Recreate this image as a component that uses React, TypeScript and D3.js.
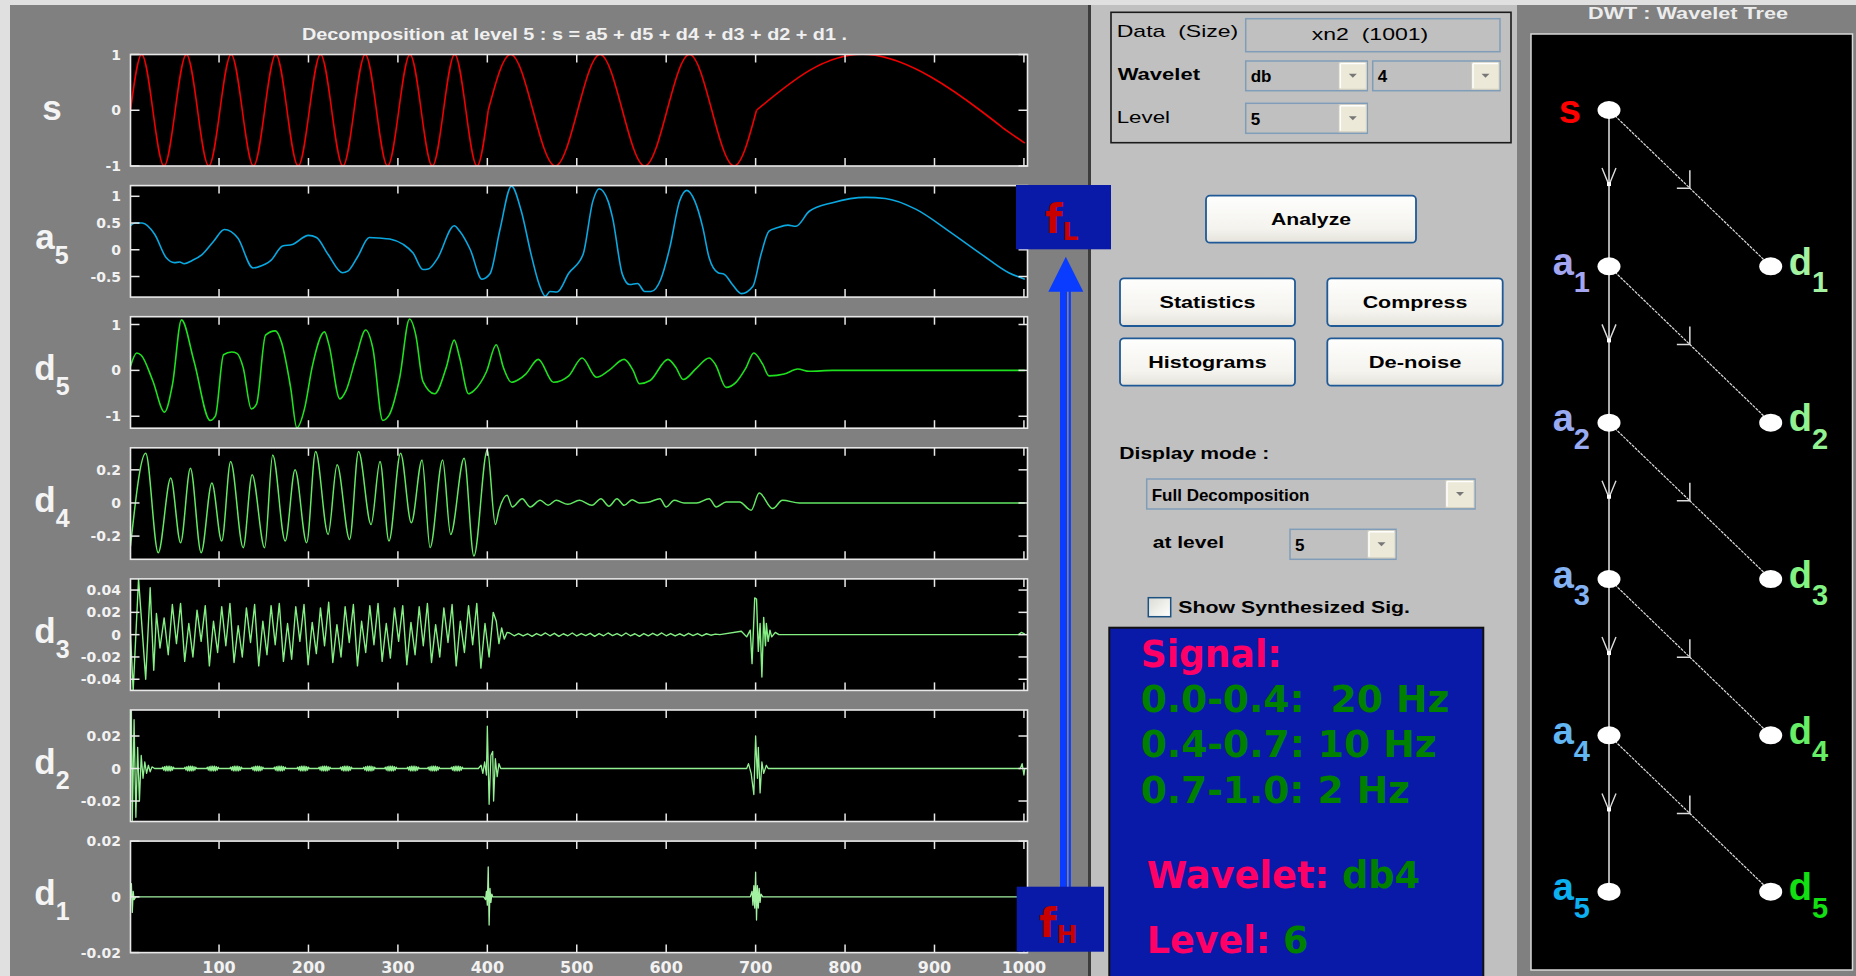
import React from 'react';
import * as d3 from 'd3';

type Pt = [number, number];

// ---------- signal s : read at quarter periods (20 Hz, 10 Hz, 2 Hz parts)
const sPart20: Pt[] = [
  [1, 0], [13.5, 1], [26, 0], [38.5, -1], [51, 0], [63.5, 1], [76, 0], [88.5, -1],
  [101, 0], [113.5, 1], [126, 0], [138.5, -1], [151, 0], [163.5, 1], [176, 0], [188.5, -1],
  [201, 0], [213.5, 1], [226, 0], [238.5, -1], [251, 0], [263.5, 1], [276, 0], [288.5, -1],
  [301, 0], [313.5, 1], [326, 0], [338.5, -1], [351, 0], [363.5, 1], [376, 0], [388.5, -1], [401, 0],
];
const sPart10: Pt[] = [
  [401, 0], [426, 1], [451, 0], [476, -1], [501, 0], [526, 1], [551, 0], [576, -1],
  [601, 0], [626, 1], [651, 0], [676, -1], [701, 0],
];
const sPart2: Pt[] = [[701, 0], [826, 1], [951, 0], [976, -0.31], [1001, -0.59]];

// ---------- approximation a5
const a5Pts: Pt[] = [
  [1, 0.45], [6, 0.5], [14, 0.5], [28, 0.29], [41, -0.15], [50, -0.24], [56, -0.23], [61, -0.26],
  [70, -0.2], [81, -0.09], [94, 0.16], [106, 0.38], [121, 0.22], [138, -0.34], [144, -0.32],
  [158, -0.2], [171, 0.07], [182, 0.1], [200, 0.27], [209, 0.23], [222, -0.09], [238, -0.43],
  [244, -0.4], [255, -0.13], [268, 0.23], [279, 0.22], [291, 0.2], [306, 0.1], [317, -0.06],
  [328, -0.37], [334, -0.36], [344, -0.17], [363, 0.45], [369, 0.35], [381, 0], [394, -0.55],
  [403, -0.45], [414, 0.37], [427, 1.19], [438, 0.72], [449, -0.09], [458, -0.65], [465, -0.87],
  [470, -0.78], [478, -0.79], [491, -0.44], [507, -0.09], [518, 0.91], [525, 1.14], [535, 0.91],
  [540, 0.6], [551, -0.46], [559, -0.65], [568, -0.63], [576, -0.78], [583, -0.78], [594, -0.55],
  [604, 0.04], [615, 0.91], [623, 1.11], [632, 0.91], [641, 0.41], [648, -0.15], [658, -0.43],
  [665, -0.46], [674, -0.65], [684, -0.82], [697, -0.68], [706, -0.09], [715, 0.35], [724, 0.41],
  [736, 0.46], [745, 0.44], [760, 0.72], [786, 0.88], [823, 0.98], [845, 0.96], [879, 0.76],
  [916, 0.35], [953, -0.09], [983, -0.43], [1001, -0.55],
];

// ---------- detail d5
const d5Pts: Pt[] = [
  [1, 0.09], [8, 0.38], [13, 0.33], [26, -0.23], [39, -0.91], [48, -0.3], [58, 1.1], [72, 0.2],
  [90, -1.09], [96, -0.99], [105, 0.34], [114, 0.4], [120, 0.37], [127, 0.06], [136, -0.84],
  [142, -0.73], [152, 0.77], [163, 0.86], [170, 0.6], [180, -0.37], [187, -1.25], [196, -0.8],
  [204, 0.06], [218, 0.84], [223, 0.55], [235, -0.62], [242, -0.44], [253, 0.27], [264, 0.88],
  [272, 0.48], [283, -1.09], [290, -0.98], [302, -0.16], [313, 1.12], [320, 0.77], [328, -0.24],
  [341, -0.51], [354, 0.06], [363, 0.66], [369, 0.28], [379, -0.51], [385, -0.44], [399, -0.03],
  [410, 0.56], [418, 0.06], [427, -0.26], [435, -0.2], [443, -0.08], [457, 0.24], [474, -0.26],
  [491, -0.12], [506, 0.27], [522, -0.15], [536, 0], [553, 0.24], [563, 0], [570, -0.29],
  [582, -0.22], [602, 0.24], [611, 0.06], [619, -0.2], [634, 0.05], [648, 0.27], [655, 0.13],
  [667, -0.37], [678, -0.26], [689, 0.05], [698, 0.38], [708, 0.13], [715, -0.12], [732, -0.08],
  [747, 0.03], [760, -0.02], [786, 0], [1001, 0],
];

// ---------- detail d4
const d4Pts: Pt[] = [
  [1, -0.26], [18, 0.3], [32, -0.3], [46, 0.15], [57, -0.24], [68, 0.21], [80, -0.3], [92, 0.12],
  [103, -0.23], [113, 0.25], [127, -0.27], [137, 0.17], [151, -0.27], [160, 0.29], [174, -0.23],
  [185, 0.2], [198, -0.24], [208, 0.31], [222, -0.19], [232, 0.23], [246, -0.22], [256, 0.31],
  [270, -0.13], [280, 0.25], [290, -0.23], [303, 0.3], [315, -0.12], [327, 0.26], [336, -0.27],
  [350, 0.26], [359, -0.19], [374, 0.27], [385, -0.32], [400, 0.32], [409, -0.13], [413, -0.044],
  [422, 0.046], [428, -0.024], [439, 0.026], [448, -0.024], [459, 0.016], [468, -0.014],
  [477, 0.016], [490, -0.008], [503, 0.016], [517, -0.014], [527, 0.026], [536, -0.02],
  [545, 0.026], [553, -0.014], [562, 0.02], [570, 0], [580, 0.004], [593, 0.026], [600, -0.024],
  [609, 0.016], [620, 0], [634, 0], [648, 0.026], [656, -0.024], [667, 0.006], [682, 0.006],
  [695, -0.044], [704, 0.06], [719, -0.034], [730, 0.016], [749, 0], [1001, 0],
];

// ---------- detail d3
const d3Start: Pt[] = [[1, 0], [4, -0.05], [10, 0.05], [18, -0.04], [23, 0.042], [27, -0.032], [30, 0.019], [34, -0.012]];
const d3BodyFrom = 38.6;
const d3BodyStep = 4.6;
const d3Body: number[] = [
  0.015, -0.018, 0.027, -0.008, 0.028, -0.024, 0.01, -0.02, 0.022, -0.006,
  0.026, -0.028, 0.012, -0.016, 0.025, -0.01, 0.028, -0.025, 0.008, -0.02,
  0.024, -0.007, 0.027, -0.028, 0.012, -0.018, 0.026, -0.009, 0.028, -0.024,
  0.01, -0.022, 0.025, -0.006, 0.027, -0.027, 0.011, -0.017, 0.024, -0.01,
  0.029, -0.025, 0.009, -0.02, 0.025, -0.007, 0.027, -0.028, 0.012, -0.016,
  0.026, -0.009, 0.028, -0.024, 0.01, -0.021, 0.024, -0.006, 0.026, -0.027,
  0.011, -0.018, 0.025, -0.01, 0.028, -0.025, 0.009, -0.02, 0.024, -0.007,
  0.027, -0.028, 0.012, -0.016, 0.026, -0.009, 0.028, -0.03, 0.01, -0.02, 0.02,
];
const d3Fade: Pt[] = [[410, 0.012], [413, -0.008], [416, 0.006], [419, -0.004], [422, 0.002]];
const d3QuietFrom = 425;
const d3QuietStep = 5;
const d3Quiet: number[] = [
  0.0015, -0.001, 0.001, -0.0012, 0.0008, -0.0015, 0.001, -0.0008, 0.0015, -0.001,
  0.0012, -0.0015, 0.0008, -0.001, 0.0015, -0.0012, 0.001, -0.0008, 0.0012, -0.0015,
  0.001, -0.001, 0.0015, -0.0008, 0.001, -0.0012, 0.0015, -0.001, 0.0008, -0.0015,
  0.001, -0.001, 0.0012, -0.0008, 0.0015, -0.001, 0.001, -0.0012, 0.0008, -0.001,
  0.0012, -0.0008, 0.001, -0.001, 0.0008, -0.0005, 0.0005, 0,
];
const d3Late: Pt[] = [
  [684, 0.003], [690, -0.002], [694, 0.004], [696, -0.026], [699, 0.033], [701, 0.032],
  [703, -0.015], [705, 0.01], [707, -0.038], [709, 0.0155], [711, -0.01], [712, 0.01],
  [714, -0.006], [716, 0.004], [718, -0.002], [722, 0.002], [726, 0], [994, 0], [997, 0.002],
  [1000, 0.001], [1001, 0],
];

// ---------- detail d2
const d2Start: Pt[] = [
  [1, 0], [2, 0.036], [3, -0.032], [5, 0.03], [7, -0.03], [9, 0.013], [11, -0.02], [13, 0.008],
  [15, -0.006], [17, 0.004], [19, -0.003], [21, 0.002], [23, -0.002], [25, 0.001], [28, 0],
];
const d2BlobCenters = [43, 68, 93, 119, 143, 168, 194, 218, 242, 268, 292, 317, 340, 366];
const d2Blob: Pt[] = [
  [-7, 0], [-6, 0.0008], [-5, -0.001], [-4, 0.0012], [-3, -0.0014], [-2, 0.0014], [-1, -0.0014],
  [0, 0.0015], [1, -0.0014], [2, 0.0014], [3, -0.0014], [4, 0.0012], [5, -0.001], [6, 0.0008], [7, 0],
];
const d2Late: Pt[] = [
  [390, 0], [393, 0.002], [395, -0.003], [397, 0.004], [399, -0.004], [400, 0.026], [402, -0.022],
  [404, 0.008], [406, 0.0105], [407, -0.02], [409, 0.006], [411, -0.005], [413, 0.003], [415, 0],
  [690, 0], [692, 0.003], [695, -0.003], [698, -0.016], [700, 0.02], [702, -0.006], [703, 0.013],
  [705, -0.015], [707, 0.004], [709, -0.003], [712, 0.002], [714, 0],
  [996, 0], [998, 0.003], [1000, -0.004], [1001, 0],
];

// ---------- detail d1
const d1Pts: Pt[] = [
  [1, 0], [2, 0.0047], [3, -0.0056], [4, 0.002], [5, -0.001], [7, 0],
  [396, 0], [398, -0.001], [399, 0.002], [400, -0.003], [401, 0.0107], [402, -0.0101],
  [403, 0.003], [404, -0.002], [405, 0.001], [406, 0],
  [694, 0], [696, 0.002], [697, -0.003], [698, 0.004], [699, -0.004], [700, 0.0089],
  [701, -0.0083], [702, 0.004], [703, -0.004], [704, 0.003], [705, -0.002], [706, 0.001],
  [708, 0], [1001, 0],
];

// ---------- axes
const rowNames = ['s', 'a5', 'd5', 'd4', 'd3', 'd2', 'd1'];
const rowDomains: Pt[] = [[-1, 1], [-0.885, 1.2], [-1.26, 1.17], [-0.34, 0.333], [-0.05, 0.05], [-0.0326, 0.036], [-0.02, 0.02]];
const rowTicks: number[][] = [
  [-1, 0, 1], [-0.5, 0, 0.5, 1], [-1, 0, 1], [-0.2, 0, 0.2],
  [-0.04, -0.02, 0, 0.02, 0.04], [-0.02, 0, 0.02], [-0.02, 0, 0.02],
];
const rowColors = ['#f00000', '#0aa8e0', '#1ee01e', '#62e862', '#84f084', '#92f092', '#a2f2a2'];
const xTicks = [100, 200, 300, 400, 500, 600, 700, 800, 900, 1000];

// ---------- wavelet tree
const treeApprox = ['s', 'a1', 'a2', 'a3', 'a4', 'a5'];
const treeDetail = ['d1', 'd2', 'd3', 'd4', 'd5'];
const approxColors = ['#ff0000', '#a4a6f2', '#98aaf2', '#84b2f2', '#62b6f2', '#0cb0f0'];
const detailColors = ['#a2f2a2', '#92f292', '#82f282', '#66ee66', '#12e012'];

// ---------- info box
const signalLines = ['0.0-0.4:  20 Hz', '0.4-0.7: 10 Hz', '0.7-1.0: 2 Hz'];
const signalWidths = [308.6, 296, 269.3];

const W = 1856;
const H = 976;
const PLOT_L = 130.5;
const PLOT_R = 1027.5;
const TOP0 = 54.5;
const STEP = 131.1;
const PH = 111.5;
const FIG = '#808080';
const GUI = '#c0c0c0';
const SANS = '"Liberation Sans", Arial, sans-serif';
const DJV = '"DejaVu Sans", Verdana, sans-serif';
const PRE = { whiteSpace: 'pre' as const };

const xScale = d3.scaleLinear().domain([1, 1004]).range([PLOT_L, PLOT_R]);

const sampled = (from: number, step: number, vals: number[]): Pt[] => vals.map((v, i) => [from + i * step, v]);

const d3Series: Pt[] = [
  ...d3Start,
  ...sampled(d3BodyFrom, d3BodyStep, d3Body),
  ...d3Fade,
  ...sampled(d3QuietFrom, d3QuietStep, d3Quiet),
  ...d3Late,
];
const d2Series: Pt[] = [
  ...d2Start,
  ...d2BlobCenters.flatMap(c => d2Blob.map(([o, v]) => [c + o, v] as Pt)),
  ...d2Late,
];

const rowSeries: { parts: Pt[][]; curve: d3.CurveFactory; width: number }[] = [
  { parts: [sPart20, sPart10, sPart2], curve: d3.curveNatural, width: 1.6 },
  { parts: [a5Pts], curve: d3.curveMonotoneX, width: 1.6 },
  { parts: [d5Pts], curve: d3.curveMonotoneX, width: 1.6 },
  { parts: [d4Pts], curve: d3.curveMonotoneX, width: 1.5 },
  { parts: [d3Series], curve: d3.curveLinear, width: 1.4 },
  { parts: [d2Series], curve: d3.curveLinear, width: 1.3 },
  { parts: [d1Pts], curve: d3.curveLinear, width: 1.3 },
];

function Panel({ i }: { i: number }) {
  const top = TOP0 + i * STEP;
  const bottom = top + PH;
  const y = d3.scaleLinear().domain(rowDomains[i]).range([bottom, top]);
  const cfg = rowSeries[i];
  const line = d3.line<Pt>().x(d => xScale(d[0])).y(d => y(d[1])).curve(cfg.curve);
  const name = rowNames[i];
  const main = name[0];
  const sub = name.slice(1);
  const mid = (top + bottom) / 2;
  return (
    <g>
      <clipPath id={`clip-${i}`}>
        <rect x={PLOT_L} y={top} width={PLOT_R - PLOT_L} height={PH} />
      </clipPath>
      <rect x={PLOT_L} y={top} width={PLOT_R - PLOT_L} height={PH} fill="#000" />
      <g clipPath={`url(#clip-${i})`}>
        {cfg.parts.map((p, k) => (
          <path key={k} d={line(p) || ''} fill="none" stroke={rowColors[i]} strokeWidth={cfg.width} strokeLinejoin="round" />
        ))}
      </g>
      <rect x={PLOT_L} y={top} width={PLOT_R - PLOT_L} height={PH} fill="none" stroke="#e8e8e8" strokeWidth={1.6} />
      {xTicks.map(t => (
        <g key={t} stroke="#e8e8e8" strokeWidth={1.5}>
          <line x1={xScale(t)} x2={xScale(t)} y1={top} y2={top + 8} />
          <line x1={xScale(t)} x2={xScale(t)} y1={bottom} y2={bottom - 8} />
        </g>
      ))}
      {rowTicks[i].map(t => (
        <g key={t}>
          <line x1={PLOT_L} x2={PLOT_L + 9} y1={y(t)} y2={y(t)} stroke="#e8e8e8" strokeWidth={1.5} />
          <line x1={PLOT_R} x2={PLOT_R - 9} y1={y(t)} y2={y(t)} stroke="#e8e8e8" strokeWidth={1.5} />
          <text x={121} y={y(t)} dy="0.36em" textAnchor="end" fontFamily={DJV} fontWeight="bold" fontSize={14} fill="#f2f2f2">
            {String(t)}
          </text>
        </g>
      ))}
      <text x={52} y={mid + (sub ? 8 : 10)} textAnchor="middle" fontFamily={SANS} fontWeight="bold" fontSize={35} fill="#f4f4f4">
        {main}
        {sub && <tspan dy={15} fontSize={25}>{sub}</tspan>}
      </text>
      {i === rowNames.length - 1 &&
        xTicks.map(t => (
          <text key={t} x={xScale(t)} y={972.5} textAnchor="middle" fontFamily={DJV} fontWeight="bold" fontSize={16} fill="#f2f2f2">
            {t}
          </text>
        ))}
    </g>
  );
}

function Dropdown({ x, y, w, h, label, btn = 27 }: { x: number; y: number; w: number; h: number; label: string; btn?: number }) {
  const bx = x + w - btn - 1;
  return (
    <g>
      <rect x={x} y={y} width={w} height={h} fill={GUI} stroke="#7f9db9" strokeWidth={1.5} />
      <text x={x + 5} y={y + h / 2 + 6.5} fontFamily={SANS} fontWeight="bold" fontSize={17} fill="#000">{label}</text>
      <rect x={bx} y={y + 1.5} width={btn} height={h - 3} fill="#ece9d8" stroke="#d6d2c2" strokeWidth={1} />
      <line x1={bx + 1} x2={bx + btn - 1} y1={y + 2.5} y2={y + 2.5} stroke="#fff" strokeWidth={1.5} />
      <line x1={bx + 1} x2={bx + 1} y1={y + 2.5} y2={y + h - 2.5} stroke="#fff" strokeWidth={1.5} />
      <path d={`M${bx + btn / 2 - 4},${y + h / 2 - 2} L${bx + btn / 2 + 4},${y + h / 2 - 2} L${bx + btn / 2},${y + h / 2 + 2} Z`} fill="#777" />
    </g>
  );
}

function Button({ x, y, w, h, label, tw }: { x: number; y: number; w: number; h: number; label: string; tw: number }) {
  return (
    <g>
      <rect x={x} y={y} width={w} height={h} rx={4} fill="url(#btnGrad)" stroke="#1f5a96" strokeWidth={1.8} />
      <text x={x + w / 2} y={y + h / 2 + 6} textAnchor="middle" fontFamily={SANS} fontWeight="bold" fontSize={17}
        fill="#000" textLength={tw} lengthAdjust="spacingAndGlyphs">{label}</text>
    </g>
  );
}

function GuiText({ x, y, w, children, bold = true }: { x: number; y: number; w: number; children: React.ReactNode; bold?: boolean }) {
  return (
    <text x={x} y={y} fontFamily={SANS} fontWeight={bold ? 'bold' : 'normal'} fontSize={17} fill="#000"
      textLength={w} lengthAdjust="spacingAndGlyphs" style={PRE}>{children}</text>
  );
}

function Tree() {
  const ax = 1609;
  const dx = 1770.7;
  const yLevel = d3.scalePoint<number>().domain(d3.range(treeApprox.length)).range([110, 891.7]);
  const ys = treeApprox.map((_, k) => yLevel(k) as number);
  return (
    <g>
      <rect x={1531} y={34} width={321.5} height={936} fill="#000" stroke="#d8d8d8" strokeWidth={1.5} />
      <text x={1688} y={19} textAnchor="middle" fontFamily={SANS} fontWeight="bold" fontSize={17} fill="#ececec"
        textLength={200} lengthAdjust="spacingAndGlyphs">DWT : Wavelet Tree</text>
      <line x1={ax} x2={ax} y1={ys[0]} y2={ys[ys.length - 1]} stroke="#e6e6e6" strokeWidth={1.5} />
      {treeDetail.map((_, k) => {
        const y0 = ys[k];
        const y1 = ys[k + 1];
        const xm = (ax + dx) / 2;
        const ym = (y0 + y1) / 2;
        const tip = y0 + (y1 - y0) * 0.48;
        return (
          <g key={k} fill="none" stroke="#dcdcdc">
            <line x1={ax} y1={y0} x2={dx} y2={y1} strokeWidth={1.2} strokeDasharray="3 1" />
            <path d={`M${xm},${ym - 18} L${xm},${ym} L${xm - 13},${ym}`} strokeWidth={1.5} />
            <path d={`M${ax - 7},${tip - 17} L${ax},${tip} L${ax + 7},${tip - 17}`} strokeWidth={1.4} />
            <rect x={ax - 2} y={tip - 3} width={4} height={4} fill="#fff" stroke="none" />
          </g>
        );
      })}
      {treeApprox.map((nm, k) => (
        <g key={nm}>
          <ellipse cx={ax} cy={ys[k]} rx={11.5} ry={9} fill="#fff" />
          <text x={k === 0 ? 1581 : 1590} y={ys[k] + (k === 0 ? 13 : 8.5)} textAnchor="end" fontFamily={SANS} fontWeight="bold"
            fontSize={k === 0 ? 40 : 38} fill={approxColors[k]}>
            {nm[0]}
            {nm.length > 1 && <tspan dy={17.5} fontSize={29}>{nm.slice(1)}</tspan>}
          </text>
        </g>
      ))}
      {treeDetail.map((nm, k) => (
        <g key={nm}>
          <ellipse cx={dx} cy={ys[k + 1]} rx={11.5} ry={9} fill="#fff" />
          <text x={dx + 18} y={ys[k + 1] + 8.5} fontFamily={SANS} fontWeight="bold" fontSize={38} fill={detailColors[k]}>
            {nm[0]}
            <tspan dy={17.5} fontSize={29}>{nm.slice(1)}</tspan>
          </text>
        </g>
      ))}
    </g>
  );
}

export default function App() {
  const pink = '#ff0066';
  const green = '#008000';
  return (
    <svg width={W} height={H} viewBox={`0 0 ${W} ${H}`} style={{ position: 'absolute', left: 0, top: 0, display: 'block' }}>
      <defs>
        <linearGradient id="btnGrad" x1="0" y1="0" x2="0" y2="1">
          <stop offset="0" stopColor="#fefefd" />
          <stop offset="0.7" stopColor="#f4f3ee" />
          <stop offset="1" stopColor="#e4e2da" />
        </linearGradient>
        <linearGradient id="chkGrad" x1="0" y1="0" x2="1" y2="1">
          <stop offset="0" stopColor="#dcdcd4" />
          <stop offset="1" stopColor="#ffffff" />
        </linearGradient>
      </defs>
      <rect x={0} y={0} width={W} height={H} fill={FIG} />

      {/* decomposition plots */}
      <text x={574.5} y={40} textAnchor="middle" fontFamily={SANS} fontWeight="bold" fontSize={16} fill="#f0f0f0"
        textLength={545} lengthAdjust="spacingAndGlyphs">
        Decomposition at level 5 : s = a5 + d5 + d4 + d3 + d2 + d1 .
      </text>
      {rowNames.map((_, i) => <Panel key={i} i={i} />)}

      {/* control panel */}
      <rect x={1091} y={0} width={426} height={H} fill={GUI} />
      <rect x={1088} y={0} width={3} height={H} fill="#3c3c3c" />
      <rect x={1111} y={12.3} width={400} height={130.4} fill="none" stroke="#1a1a1a" strokeWidth={1.6} />
      <GuiText x={1116.7} y={36.5} w={121.6} bold={false}>{'Data  (Size)'}</GuiText>
      <rect x={1245.7} y={18.7} width={254.3} height={33} fill={GUI} stroke="#7f9db9" strokeWidth={1.5} />
      <GuiText x={1311.7} y={39.5} w={116.6} bold={false}>{'xn2  (1001)'}</GuiText>
      <GuiText x={1117.7} y={80} w={82.3}>Wavelet</GuiText>
      <Dropdown x={1245.7} y={61} w={121.6} h={29.7} label="db" />
      <Dropdown x={1372.7} y={61} w={127.3} h={29.7} label="4" />
      <GuiText x={1116.7} y={122.5} w={53.3} bold={false}>Level</GuiText>
      <Dropdown x={1245.7} y={103.3} w={121.6} h={30} label="5" />

      <Button x={1206} y={195.7} w={210} h={47} label="Analyze" tw={80} />
      <Button x={1120} y={278.3} w={175} h={47.7} label="Statistics" tw={96} />
      <Button x={1327.3} y={278.3} w={175.4} h={47.7} label="Compress" tw={104.7} />
      <Button x={1120} y={338.3} w={175} h={47.4} label="Histograms" tw={118.3} />
      <Button x={1327.3} y={338.3} w={175.4} h={47.4} label="De-noise" tw={92.7} />

      <GuiText x={1119.3} y={459} w={150}>Display mode :</GuiText>
      <Dropdown x={1146.7} y={479} w={328.3} h={30} label="Full Decomposition" btn={28} />
      <GuiText x={1152.7} y={548} w={71.3}>at level</GuiText>
      <Dropdown x={1290} y={529.3} w={106} h={30} label="5" />
      <rect x={1148.3} y={597.7} width={22.4} height={19} fill="url(#chkGrad)" stroke="#1c5180" strokeWidth={1.5} />
      <GuiText x={1178.3} y={613.3} w={231.7}>Show Synthesized Sig.</GuiText>

      {/* info box */}
      <rect x={1109.3} y={627.7} width={374} height={360} fill="#0a1aa8" stroke="#111" strokeWidth={2} />
      <text x={1140.7} y={666.7} fontFamily={DJV} fontWeight="bold" fontSize={37} fill={pink} textLength={141} lengthAdjust="spacingAndGlyphs">Signal:</text>
      {signalLines.map((t, k) => (
        <text key={t} x={1140.7} y={711.7 + k * 45.5} fontFamily={DJV} fontWeight="bold" fontSize={37} fill={green}
          textLength={signalWidths[k]} lengthAdjust="spacingAndGlyphs" style={PRE}>{t}</text>
      ))}
      <text x={1146.7} y={888.3} fontFamily={DJV} fontWeight="bold" fontSize={37} fill={pink} textLength={273.3} lengthAdjust="spacingAndGlyphs">
        Wavelet: <tspan fill={green}>db4</tspan>
      </text>
      <text x={1146.7} y={953.3} fontFamily={DJV} fontWeight="bold" fontSize={37} fill={pink} textLength={161.6} lengthAdjust="spacingAndGlyphs">
        Level: <tspan fill={green}>6</tspan>
      </text>

      {/* frequency arrow */}
      <rect x={1060} y={290} width={7} height={600} fill="#0a3cff" />
      <rect x={1068.7} y={290} width={2.2} height={600} fill="#0a3cff" />
      <path d="M1048.3,291.7 L1083.3,291.7 L1065.8,256.7 Z" fill="#0a3cff" />
      <rect x={1016} y={185} width={95} height={64.3} fill="#0a1aa8" />
      <text x={1045} y={233} fontFamily={DJV} fontWeight="bold" fontSize={40} fill="#c80000">f<tspan dy={7} fontSize={25}>L</tspan></text>
      <rect x={1016.7} y={886.7} width={87.3} height={65} fill="#0a1aa8" />
      <text x={1039} y={936.7} fontFamily={DJV} fontWeight="bold" fontSize={40} fill="#c80000">f<tspan dy={6.5} fontSize={25}>H</tspan></text>

      {/* wavelet tree */}
      <rect x={1517} y={0} width={339} height={H} fill={FIG} />
      <Tree />

      {/* window edges */}
      <rect x={0} y={0} width={W} height={5} fill="#e0e0e0" />
      <rect x={0} y={0} width={10} height={H} fill="#e0e0e0" />
    </svg>
  );
}
